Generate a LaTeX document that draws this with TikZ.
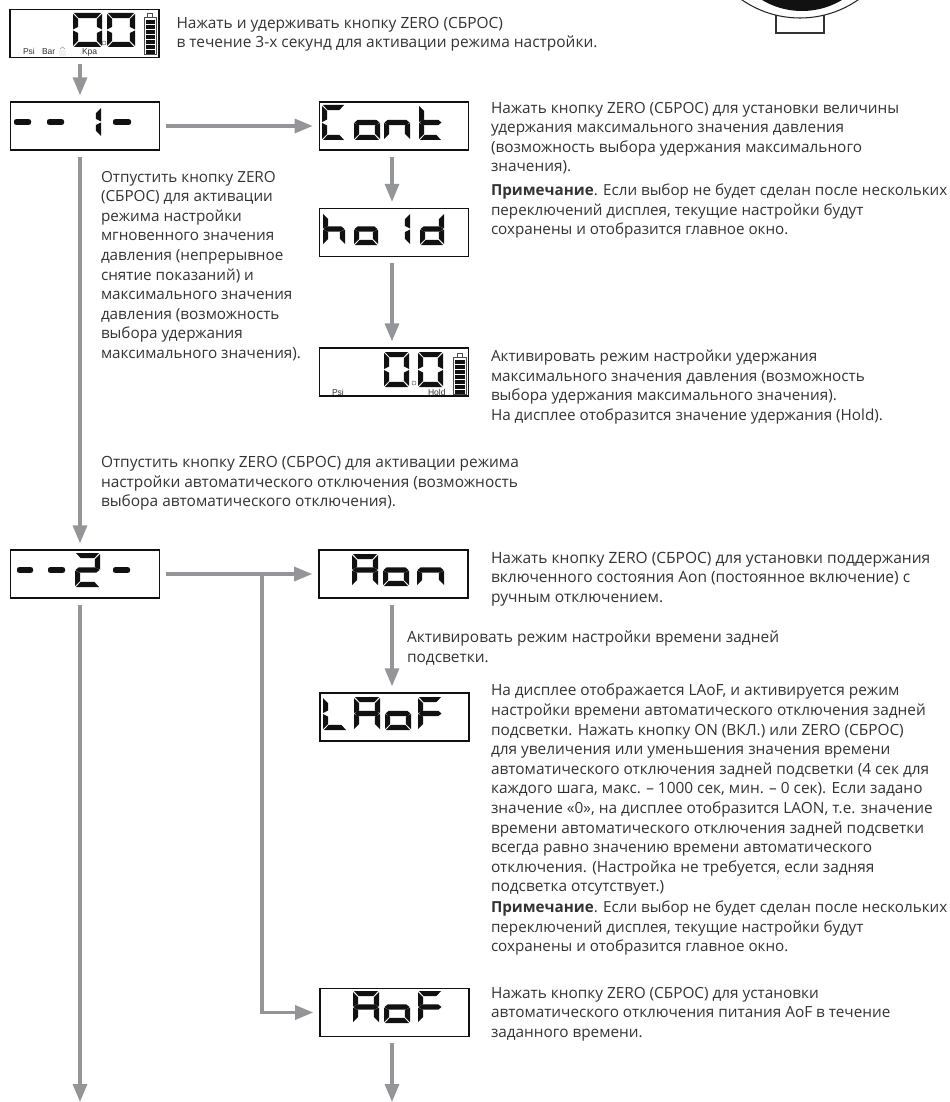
\documentclass[tikz,border=0pt]{standalone}
\usepackage{fontspec}
\setmainfont{Open Sans}
\newfontfamily\lcdfont{Liberation Sans}
\usetikzlibrary{arrows.meta,calc}
\definecolor{flowgrey}{HTML}{939598}
\definecolor{ink}{HTML}{333333}
\definecolor{lcdblack}{HTML}{111111}
\tikzset{
  lcdbox/.style={draw=lcdblack,line width=1.2pt,fill=white,minimum width=112pt,minimum height=36pt,inner sep=0pt,outer sep=0pt},
  flow/.style={draw=flowgrey,line width=2.4pt,-{Triangle[length=13.5pt,width=10.5pt]},shorten <=5pt,shorten >=5pt},
  para/.style={anchor=north west,inner sep=0pt,outer sep=0pt,align=left,text=ink,font=\fontsize{#1}{14.7}\selectfont},
  lcdlabel/.style={inner sep=0pt,outer sep=0pt,anchor=base west,text=black!80,font=\lcdfont\fontsize{6.4}{7}\selectfont},
}
\newcommand{\sega}{\fill (1,0)--(\W-1,0)--(\W-\T-.5,\T)--(\T+.5,\T)--cycle;}
\newcommand{\segd}{\fill (1,\H)--(\W-1,\H)--(\W-\T-.5,\H-\T)--(\T+.5,\H-\T)--cycle;}
\newcommand{\segf}{\fill (0,1)--(\T,\T+1)--(\T,\H/2-\T/2-.5)--(0,\H/2-.5)--cycle;}
\newcommand{\sege}{\fill (0,\H-1)--(\T,\H-\T-1)--(\T,\H/2+\T/2+.5)--(0,\H/2+.5)--cycle;}
\newcommand{\segb}{\fill (\W,1)--(\W-\T,\T+1)--(\W-\T,\H/2-\T/2-.5)--(\W,\H/2-.5)--cycle;}
\newcommand{\segc}{\fill (\W,\H-1)--(\W-\T,\H-\T-1)--(\W-\T,\H/2+\T/2+.5)--(\W,\H/2+.5)--cycle;}
\newcommand{\segg}{\fill (.5,\H/2)--(\T*.7,\H/2-\T/2)--(\W-\T*.7,\H/2-\T/2)--(\W-.5,\H/2)--(\W-\T*.7,\H/2+\T/2)--(\T*.7,\H/2+\T/2)--cycle;}
\newcommand{\lcdglyph}[5]{%
  \begin{scope}[shift={(#1,#2)},fill=lcdblack]
  \def\W{#3}\def\H{#4}\def\T{5.2}
  \foreach \s in {#5}{\csname seg\s\endcsname}
  \end{scope}}
\newcommand{\lcddash}[3]{\fill[lcdblack,rounded corners=1.5pt] (#1,#3-2.8)--(#1+#2,#3-2.8)--(#1+#2,#3+2.8)--(#1,#3+2.8)--cycle;}
\newcommand{\battery}[4]{%
  \begin{scope}[shift={(#1,#2)}]
  \draw[black!70,line width=.5pt] (0,5)--(#3,5)--(#3,#4)--(0,#4)--cycle;
  \draw[black!70,line width=.5pt] (#3*.3,5)--(#3*.3,1)--(#3*.7,1)--(#3*.7,5);
  \foreach \k in {0,...,6}{\fill[lcdblack] (1.5,8+\k*5.05)rectangle (#3-1.5,8+\k*5.05+3.9);}
  \end{scope}}
\begin{document}
\begin{tikzpicture}[x=.75pt,y=-.75pt]
\useasboundingbox (0,0) rectangle (949,1102);
\clip (0,0) rectangle (949,1102);
\draw[black!80,line width=.8pt,fill=white] (776,10) rectangle (824,33);
\draw[black!85,line width=.8pt,fill=white] (800,-84) circle (102);
\fill[lcdblack] (802,-67) circle (78);
\node[lcdbox] (d0) at (84.5,33.5) {};
\node[lcdbox] (d1) at (85,126) {};
\node[lcdbox] (cont) at (394,126) {};
\node[lcdbox] (hold) at (394,232.5) {};
\node[lcdbox] (d3) at (394,372) {};
\node[lcdbox] (d2) at (85,574) {};
\node[lcdbox] (aon) at (393.5,574) {};
\node[lcdbox] (laof) at (394.5,717) {};
\node[lcdbox] (aof) at (394.5,1012.5) {};
\lcdglyph{73}{13}{29}{34}{a,b,c,d,e,f}
\lcdglyph{107}{13}{28}{34}{a,b,c,d,e,f}
\draw[black!60,line width=.4pt] (104,43) circle (2);
\battery{144}{12}{12}{42}
\node[lcdlabel] (l1) at (23,55) {Psi};
\node[lcdlabel] (l2) at (42,55) {Bar};
\node[lcdlabel] (l3) at (82,55) {Kpa};
\draw[black!45,line width=.35pt] (59,51)--(66,51) (59,53)--(66,53) (59,55)--(66,55) (60,49)--(62.5,47)--(65,49);
\lcddash{14}{17}{122}\lcddash{47}{17}{122}\lcddash{113}{18}{122}
\lcdglyph{94}{107}{7}{30}{b,c}
\lcddash{17}{16}{570}\lcddash{48}{17}{570}\lcddash{113}{17}{570}
\lcdglyph{75}{553}{25}{34}{a,b,g,e,d}
\lcdglyph{322}{105}{23}{35}{a,f,e,d}
\lcdglyph{354}{105}{26}{35}{g,c,d,e}
\lcdglyph{384}{105}{26}{35}{g,c,e}
\lcdglyph{419}{105}{23}{35}{f,e,g,d}
\lcdglyph{323}{213}{22}{32}{f,e,g,c}
\lcdglyph{354}{213}{24}{32}{g,c,d,e}
\lcdglyph{403}{213}{7}{32}{b,c}
\lcdglyph{420}{213}{24}{32}{b,c,d,e,g}
\lcdglyph{384}{352}{25}{35}{a,b,c,d,e,f}
\lcdglyph{418}{352}{25}{35}{a,b,c,d,e,f}
\draw[black!60,line width=.4pt] (414,383) circle (2);
\battery{453}{352}{13}{42}
\node[lcdlabel] (l4) at (332,395) {Psi};
\node[lcdlabel] (l5) at (428,395) {Hold};
\lcdglyph{352}{554}{26}{32}{a,b,c,e,f,g}
\lcdglyph{383}{554}{26}{32}{g,c,d,e}
\lcdglyph{417}{554}{27}{32}{g,c,e}
\lcdglyph{323}{697}{24}{33}{f,e,d}
\lcdglyph{354}{697}{26}{33}{a,b,c,e,f,g}
\lcdglyph{385}{697}{26}{33}{g,c,d,e}
\lcdglyph{418}{697}{24}{33}{a,e,f,g}
\lcdglyph{353}{991}{26}{32}{a,b,c,e,f,g}
\lcdglyph{384}{991}{26}{32}{g,c,d,e}
\lcdglyph{418}{991}{24}{32}{a,e,f,g}
\coordinate (endL) at (80,1102);
\coordinate (endR) at (392,1102);
\coordinate (jct) at (262,573);
\draw[flow] (80,0 |- d0.south) -- (80,0 |- d1.north);
\draw[flow] (80,0 |- d1.south) -- (80,0 |- d2.north);
\draw[flow,shorten >=0pt] (80,0 |- d2.south) -- (endL);
\draw[flow] (d1.east) -- (cont.west);
\draw[flow] (392,0 |- cont.south) -- (392,0 |- hold.north);
\draw[flow] (392,0 |- hold.south) -- (392,0 |- d3.north);
\draw[flow] (d2.east) -- (aon.west);
\draw[flow] (392,0 |- aon.south) -- (392,0 |- laof.north);
\draw[flow,shorten <=0pt] (jct) |- (aof.west);
\draw[flow,shorten >=0pt] (392,0 |- aof.south) -- (endR);
\node[para=11.6] (t1) at (176.5,17) {Нажать и удерживать кнопку ZERO (СБРОС)\\в течение 3-х секунд для активации режима настройки.};
\node[para=11.5] (t2) at (491,102) {Нажать кнопку ZERO (СБРОС) для установки величины\\удержания максимального значения давления\\(возможность выбора удержания максимального\\значения).};
\node[para=11.4] (t2b) at (491,184) {\textbf{Примечание}. Если выбор не будет сделан после нескольких\\переключений дисплея, текущие настройки будут\\сохранены и отобразится главное окно.};
\node[para=11.45] (t3) at (101,171) {Отпустить кнопку ZERO\\(СБРОС) для активации\\режима настройки\\мгновенного значения\\давления (непрерывное\\снятие показаний) и\\максимального значения\\давления (возможность\\выбора удержания\\максимального значения).};
\node[para=11.45] (t4) at (491,350) {Активировать режим настройки удержания\\максимального значения давления (возможность\\выбора удержания максимального значения).\\На дисплее отобразится значение удержания (Hold).};
\node[para=11.58] (t5) at (101,456.5) {Отпустить кнопку ZERO (СБРОС) для активации режима\\настройки автоматического отключения (возможность\\выбора автоматического отключения).};
\node[para=11.65] (t6) at (491,552) {Нажать кнопку ZERO (СБРОС) для установки поддержания\\включенного состояния Aon (постоянное включение) с\\ручным отключением.};
\node[para=11.6] (t7) at (407,631) {Активировать режим настройки времени задней\\подсветки.};
\node[para=11.55] (t8) at (491,684) {На дисплее отображается LAoF, и активируется режим\\настройки времени автоматического отключения задней\\подсветки. Нажать кнопку ON (ВКЛ.) или ZERO (СБРОС)\\для увеличения или уменьшения значения времени\\автоматического отключения задней подсветки (4 сек для\\каждого шага, макс. –\  1000 сек, мин. – 0 сек). Если задано\\значение «0», на дисплее отобразится LAON, т.е. значение\\времени автоматического отключения задней подсветки\\всегда равно значению времени автоматического\\отключения. (Настройка не требуется, если задняя\\подсветка отсутствует.)};
\node[para=11.4] (t8b) at (491,901) {\textbf{Примечание}. Если выбор не будет сделан после нескольких\\переключений дисплея, текущие настройки будут\\сохранены и отобразится главное окно.};
\node[para=11.5] (t9) at (491,987) {Нажать кнопку ZERO (СБРОС) для установки\\автоматического отключения питания AoF в течение\\заданного времени.};
\end{tikzpicture}
\end{document}
